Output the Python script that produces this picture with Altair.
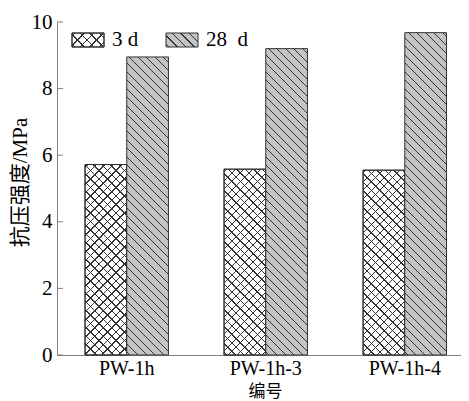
import math
import altair as alt

# ---- data ----
categories = ["PW-1h", "PW-1h-3", "PW-1h-4"]
series = ["3 d", "28 d"]
series_labels = ["3 d", "28\u00a0\u00a0d"]
strength_3d = [5.72, 5.58, 5.55]
strength_28d = [8.95, 9.20, 9.68]
y_ticks = [0, 2, 4, 6, 8, 10]

# ---- layout ----
W, H = 404, 333
P_IN, P_OUT, ALIGN = 0.4, 0.153, 0.659
Y_MAX = 10
FONT = "'Times New Roman', 'Liberation Serif', Times, serif"
CJK_FONT = "'Times New Roman', 'Liberation Serif', 'Noto Sans CJK SC', serif"
AXIS_GRAY = "#808080"
LINE = "#333333"
GRAY_FILL = "#c4c4c4"

step = W / (len(categories) - P_IN + 2 * P_OUT)
bar_w = step * (1 - P_IN) / len(series)


def stripes(w, h, kind, bg, fg, spacing=8.5, lw=1.0, phase=3.0):
    """Linear gradient with hard stops that draws 45-degree hatch lines."""
    L = w + h
    k = L / (w * w + h * h)
    if kind == "back":  # lines like '\'
        x1, y1, x2, y2 = 0, 1, k * w, 1 - k * h
    else:  # lines like '/'
        x1, y1, x2, y2 = 0, 0, k * w, k * h
    half = lw * math.sqrt(2) / 2
    stops = [alt.GradientStop(offset=0, color=bg)]
    c = phase
    while c < L:
        a = round(max(0.0, (c - half) / L), 5)
        b = round(min(1.0, (c + half) / L), 5)
        stops += [
            alt.GradientStop(offset=a, color=bg),
            alt.GradientStop(offset=a, color=fg),
            alt.GradientStop(offset=b, color=fg),
            alt.GradientStop(offset=b, color=bg),
        ]
        c += spacing
    stops.append(alt.GradientStop(offset=1, color=bg))
    return alt.LinearGradient(gradient="linear", stops=stops,
                              x1=x1, y1=y1, x2=round(x2, 6), y2=round(y2, 6))


x_scale = alt.Scale(domain=categories, paddingInner=P_IN, paddingOuter=P_OUT,
                    align=ALIGN, round=False)
xo_scale = alt.Scale(domain=series, paddingInner=0, paddingOuter=0, round=False)
y_scale = alt.Scale(domain=[0, Y_MAX], nice=False, zero=True)

x_axis = alt.Axis(title="编号", labelAngle=0, ticks=False, labelPadding=3,
                  labelFontSize=20,
                  titleX=208, titleY=36, titleBaseline="middle", titleFontSize=17)
y_axis = alt.Axis(title="抗压强度/MPa", values=y_ticks, ticks=False, grid=False,
                  labelPadding=5, titleX=-37, titleY=160, titleAlign="center",
                  titleBaseline="middle", titleFontSize=21)

layers = []
for i, cat in enumerate(categories):
    for s, vals in zip(series, [strength_3d, strength_28d]):
        v = vals[i]
        h = v / Y_MAX * H
        data = alt.Data(values=[{"cat": cat, "series": s, "value": v}])
        enc = dict(
            x=alt.X("cat:N", scale=x_scale, axis=x_axis, sort=categories),
            xOffset=alt.XOffset("series:N", scale=xo_scale, sort=series),
            y=alt.Y("value:Q", scale=y_scale, axis=y_axis),
        )
        if s == "3 d":
            g1 = stripes(bar_w, h, "back", "#ffffff", LINE)
            g2 = stripes(bar_w, h, "fwd", "rgba(255,255,255,0)", LINE)
            layers.append(alt.Chart(data).mark_bar(fill=g1, stroke=LINE, strokeWidth=1).encode(**enc))
            layers.append(alt.Chart(data).mark_bar(fill=g2, stroke=LINE, strokeWidth=1).encode(**enc))
        else:
            g = stripes(bar_w, h, "back", GRAY_FILL, LINE)
            layers.append(alt.Chart(data).mark_bar(fill=g, stroke=LINE, strokeWidth=1).encode(**enc))

# inward y ticks
tick_layer = alt.Chart(alt.Data(values=[{"value": t} for t in y_ticks])).mark_rule(
    color=AXIS_GRAY, strokeWidth=1
).encode(
    y=alt.Y("value:Q", scale=y_scale, axis=y_axis),
    x=alt.value(0), x2=alt.value(6),
)
layers.append(tick_layer)

# legend (hatched swatches + labels)
SW_W, SW_H = 32, 14
leg_x = [15, 109]
for j, s in enumerate(series):
    d = alt.Data(values=[{"s": series_labels[j]}])
    x0 = leg_x[j]
    pos = dict(x=alt.value(x0), x2=alt.value(x0 + SW_W), y=alt.value(11), y2=alt.value(11 + SW_H))
    if j == 0:
        layers.append(alt.Chart(d).mark_rect(fill=stripes(SW_W, SW_H, "back", "#ffffff", LINE, spacing=9.5),
                                             stroke=LINE, strokeWidth=1).encode(**pos))
        layers.append(alt.Chart(d).mark_rect(fill=stripes(SW_W, SW_H, "fwd", "rgba(255,255,255,0)", LINE, spacing=9.5),
                                             stroke=LINE, strokeWidth=1).encode(**pos))
    else:
        layers.append(alt.Chart(d).mark_rect(fill=stripes(SW_W, SW_H, "back", GRAY_FILL, LINE),
                                             stroke=LINE, strokeWidth=1).encode(**pos))
    layers.append(alt.Chart(d).mark_text(align="left", baseline="middle", font=FONT,
                                         fontSize=21, color="black").encode(
        x=alt.value(x0 + SW_W + 8), y=alt.value(18), text=alt.Text("s:N")))

chart = alt.layer(*layers).properties(
    width=W, height=H,
    autosize=alt.AutoSizeParams(type="none"),
    padding={"left": 49, "top": 14, "right": 0, "bottom": 45},
).configure_view(strokeWidth=0).configure_axis(
    labelFont=FONT, labelFontSize=21, labelColor="black",
    titleFont=CJK_FONT, titleColor="black", titleFontWeight="normal",
    domainColor=AXIS_GRAY, domainWidth=1,
)

chart.save("out.html", embed_options={"renderer": "svg", "actions": False})
